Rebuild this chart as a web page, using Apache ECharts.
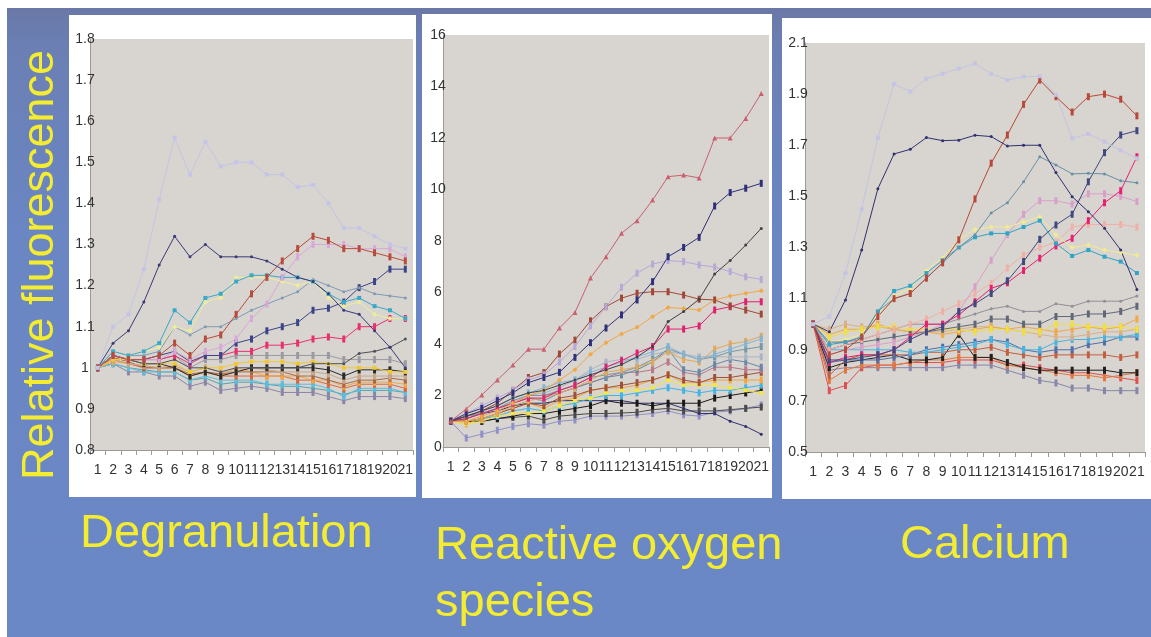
<!DOCTYPE html>
<html><head><meta charset="utf-8">
<script src="https://cdn.jsdelivr.net/npm/echarts@6/dist/echarts.min.js"></script>
<style>
html,body{margin:0;padding:0;background:#ffffff;overflow:hidden;}
#bg{position:absolute;left:7px;top:8px;width:1144px;height:629px;
background:linear-gradient(to bottom,#6a78a7 0%,#6b7fb4 6%,#6a86c3 35%,#6b88c6 100%);}
#chart{position:absolute;left:0;top:0;width:1151px;height:637px;}
</style></head><body><div id="bg"></div><div id="chart"></div>
<script>
// ---------- categories / ticks ----------
const timePoints = ['1','2','3','4','5','6','7','8','9','10','11','12','13','14','15','16','17','18','19','20','21'];

// ---------- Degranulation ----------
const deg_lavender = [1.00,1.10,1.13,1.24,1.41,1.56,1.47,1.55,1.49,1.50,1.50,1.47,1.47,1.44,1.445,1.40,1.34,1.34,1.32,1.30,1.29];
const deg_navy     = [1.00,1.06,1.09,1.16,1.25,1.32,1.27,1.30,1.27,1.27,1.27,1.26,1.24,1.22,1.21,1.18,1.14,1.13,1.09,1.05,1.00];
const deg_brown    = [1.00,1.03,1.02,1.02,1.03,1.06,1.03,1.07,1.08,1.13,1.18,1.22,1.26,1.29,1.32,1.31,1.29,1.29,1.28,1.27,1.26];
const deg_pink     = [1.00,1.03,1.02,1.02,1.02,1.04,1.02,1.04,1.05,1.07,1.12,1.155,1.22,1.27,1.30,1.30,1.30,1.29,1.29,1.29,1.27];
const deg_cyan     = [1.00,1.04,1.03,1.04,1.06,1.14,1.11,1.17,1.18,1.21,1.225,1.225,1.22,1.22,1.21,1.18,1.16,1.17,1.15,1.14,1.12];
const deg_ltyellow = [1.00,1.04,1.03,1.04,1.05,1.10,1.09,1.16,1.17,1.22,1.22,1.22,1.21,1.20,1.21,1.17,1.15,1.16,1.13,1.12,1.12];
const deg_grayblue = [1.00,1.04,1.03,1.03,1.04,1.10,1.08,1.10,1.10,1.12,1.14,1.155,1.17,1.185,1.215,1.20,1.185,1.195,1.18,1.175,1.17];
const deg_navy2    = [1.00,1.03,1.02,1.02,1.03,1.04,1.015,1.03,1.03,1.06,1.07,1.09,1.10,1.11,1.14,1.145,1.16,1.195,1.21,1.24,1.24];
const deg_magenta  = [1.00,1.03,1.02,1.02,1.02,1.03,1.01,1.03,1.03,1.04,1.04,1.055,1.055,1.06,1.07,1.075,1.07,1.10,1.10,1.12,1.12];
const deg_dkgray   = [1.00,1.03,1.02,1.01,1.01,1.02,1.00,1.00,0.99,1.00,1.00,1.00,1.00,1.00,1.01,1.01,1.01,1.035,1.04,1.05,1.07];
const deg_gold     = [1.00,1.02,1.02,1.01,1.01,1.01,0.99,1.00,1.00,1.01,1.015,1.015,1.015,1.01,1.015,1.01,1.00,1.00,1.00,0.99,0.99];
const deg_black    = [1.00,1.03,1.02,1.01,1.01,1.00,0.98,0.99,0.98,0.99,1.00,1.00,1.00,1.00,1.00,0.995,0.98,0.995,0.995,0.995,0.99];
const deg_orred    = [1.00,1.02,1.01,1.00,1.00,1.00,0.98,0.99,0.98,0.98,0.98,0.98,0.98,0.97,0.97,0.96,0.95,0.96,0.96,0.96,0.95];
const deg_ltblue   = [1.00,1.01,1.00,0.99,0.99,0.99,0.97,0.98,0.97,0.97,0.97,0.96,0.96,0.96,0.96,0.95,0.93,0.95,0.95,0.95,0.94];
const deg_purple   = [1.00,1.01,0.99,0.99,0.98,0.98,0.955,0.965,0.945,0.95,0.955,0.95,0.94,0.94,0.94,0.93,0.92,0.93,0.93,0.93,0.925];
const deg_brown2   = [1.00,1.025,1.015,1.00,1.00,1.00,0.985,0.99,0.985,0.99,0.99,0.99,0.99,0.98,0.98,0.97,0.96,0.97,0.97,0.975,0.97];
const deg_tan      = [1.00,1.02,1.01,1.005,1.00,1.005,0.99,1.00,0.99,0.99,1.00,0.995,0.99,0.99,0.99,0.985,0.97,0.98,0.98,0.98,0.98];
const deg_gray     = [1.00,1.03,1.02,1.02,1.02,1.03,1.00,1.02,1.02,1.03,1.03,1.03,1.03,1.03,1.03,1.03,1.02,1.02,1.02,1.02,1.01];
const deg_orange   = [1.00,1.015,1.01,1.005,1.00,1.00,0.98,0.99,0.98,1.00,0.99,0.98,0.98,0.98,0.97,0.97,0.955,0.965,0.965,0.965,0.96];
const deg_teal     = [1.00,1.01,1.00,0.995,0.99,0.99,0.97,0.975,0.96,0.965,0.965,0.96,0.955,0.955,0.95,0.945,0.935,0.945,0.945,0.945,0.94];

// ---------- Reactive oxygen species ----------
const ros_mauve    = [1.0,1.48,2.02,2.60,3.18,3.80,3.80,4.62,5.22,6.56,7.39,8.30,8.79,9.59,10.50,10.56,10.45,12.0,12.0,12.76,13.73];
const ros_navy     = [1.0,1.3,1.5,1.8,2.1,2.5,2.7,2.9,3.48,4.05,4.62,5.13,5.71,6.42,7.39,7.75,8.14,9.36,9.88,10.05,10.24];
const ros_dkgray   = [1.0,1.2,1.4,1.6,1.9,2.1,2.2,2.4,2.6,2.8,3.0,3.2,3.5,3.9,4.87,5.26,5.74,6.72,7.24,7.84,8.49];
const ros_lavender = [1.0,1.3,1.6,1.9,2.2,2.6,2.8,3.3,3.9,4.7,5.45,6.2,6.75,7.1,7.24,7.2,7.07,6.99,6.81,6.61,6.51];
const ros_brown    = [1.0,1.2,1.4,1.7,2.2,2.7,2.89,3.61,4.15,4.9,5.45,5.78,5.97,6.03,6.03,5.9,5.74,5.71,5.48,5.32,5.16];
const ros_orange   = [1.0,1.0,1.2,1.4,1.7,2.0,2.2,2.6,3.0,3.6,4.05,4.39,4.65,5.06,5.42,5.38,5.32,5.71,5.86,5.97,6.07];
const ros_magenta  = [1.0,1.1,1.3,1.5,1.7,1.9,1.9,2.2,2.4,2.7,3.1,3.35,3.65,3.9,4.58,4.58,4.7,5.32,5.45,5.64,5.64];
const ros_ltblue   = [1.0,1.2,1.4,1.6,1.9,2.1,2.3,2.5,2.6,2.9,3.1,3.3,3.5,3.7,3.9,3.6,3.4,3.6,3.8,4.0,4.2];
const ros_tan      = [1.0,1.0,1.1,1.3,1.6,1.8,1.9,2.1,2.3,2.6,2.9,3.0,3.1,3.3,3.7,3.4,3.3,3.8,4.0,4.1,4.3];
const ros_grayblue = [1.0,1.2,1.3,1.5,1.8,2.0,2.0,2.2,2.4,2.7,2.8,2.9,3.1,3.4,3.8,3.6,3.4,3.5,3.7,3.8,3.9];
const ros_silver   = [1.0,1.2,1.3,1.5,1.7,2.0,2.1,2.3,2.6,3.0,3.3,3.4,3.4,3.6,3.7,3.6,3.5,3.5,3.5,3.5,3.5];
const ros_steel    = [1.0,1.1,1.3,1.5,1.7,1.9,1.8,2.1,2.3,2.5,2.7,2.8,3.0,3.3,3.8,3.0,2.9,3.2,3.4,3.3,3.1];
const ros_rose     = [1.0,1.1,1.3,1.5,1.7,2.0,2.0,2.1,2.3,2.5,2.7,2.9,2.9,3.0,3.3,2.9,2.8,3.1,3.1,3.0,3.0];
const ros_brown2   = [1.0,1.0,1.1,1.3,1.5,1.7,1.6,1.9,2.0,2.2,2.3,2.4,2.5,2.6,2.8,2.6,2.5,2.7,2.7,2.8,2.9];
const ros_yellow   = [1.0,0.9,1.0,1.2,1.3,1.3,1.4,1.6,1.8,1.9,2.1,2.2,2.2,2.3,2.6,2.4,2.4,2.4,2.3,2.2,2.1];
const ros_gold     = [1.0,0.9,1.1,1.3,1.5,1.7,1.5,1.8,1.9,2.2,2.3,2.3,2.4,2.6,2.8,2.5,2.5,2.6,2.6,2.6,2.6];
const ros_cyan     = [1.0,1.0,1.1,1.2,1.4,1.5,1.4,1.6,1.7,1.9,2.0,2.0,2.1,2.2,2.3,2.2,2.1,2.2,2.2,2.3,2.4];
const ros_black    = [1.0,1.0,1.0,1.1,1.2,1.3,1.3,1.4,1.5,1.6,1.8,1.7,1.7,1.6,1.7,1.7,1.7,1.9,2.0,2.1,2.2];
const ros_navy2    = [1.0,1.2,1.3,1.4,1.6,1.7,1.7,1.8,1.8,1.8,1.8,1.8,1.7,1.7,1.7,1.5,1.3,1.3,1.0,0.8,0.5];
const ros_charcoal = [1.0,1.0,1.0,1.1,1.15,1.2,1.05,1.2,1.25,1.3,1.3,1.32,1.35,1.45,1.5,1.4,1.4,1.4,1.45,1.5,1.55];
const ros_violet   = [1.0,0.35,0.5,0.65,0.8,0.9,0.85,1.0,1.05,1.2,1.2,1.2,1.25,1.3,1.4,1.25,1.2,1.35,1.4,1.5,1.63];

// ---------- Calcium ----------
const cal_lavender = [1.0,1.03,1.2,1.45,1.73,1.94,1.91,1.96,1.98,2.0,2.02,1.98,1.955,1.968,1.97,1.897,1.727,1.744,1.714,1.68,1.649];
const cal_navy     = [1.0,0.97,1.095,1.29,1.53,1.666,1.684,1.73,1.718,1.72,1.739,1.734,1.697,1.70,1.70,1.593,1.499,1.44,1.375,1.29,1.136];
const cal_brown    = [1.0,0.88,0.90,0.95,1.03,1.10,1.12,1.18,1.24,1.33,1.49,1.63,1.74,1.86,1.955,1.89,1.83,1.89,1.90,1.88,1.815];
const cal_grayteal = [1.0,0.93,0.93,0.95,1.05,1.10,1.12,1.18,1.24,1.30,1.35,1.435,1.475,1.557,1.655,1.623,1.588,1.59,1.588,1.561,1.553];
const cal_cyan     = [1.0,0.92,0.93,0.95,1.05,1.13,1.15,1.20,1.25,1.30,1.34,1.355,1.355,1.38,1.405,1.316,1.267,1.29,1.264,1.245,1.20];
const cal_ltyellow = [1.0,0.93,0.94,0.96,1.04,1.11,1.14,1.21,1.26,1.33,1.37,1.38,1.38,1.40,1.42,1.35,1.30,1.31,1.29,1.28,1.27];
const cal_navy2    = [1.0,0.86,0.86,0.87,0.88,0.90,0.94,0.97,0.99,1.05,1.08,1.12,1.17,1.245,1.332,1.388,1.43,1.557,1.671,1.74,1.757];
const cal_magenta  = [1.0,0.85,0.87,0.88,0.88,0.90,0.95,1.00,1.00,1.036,1.088,1.14,1.162,1.21,1.258,1.306,1.336,1.405,1.475,1.522,1.655];
const cal_pink     = [1.0,0.88,0.90,0.91,0.92,0.93,0.95,0.97,1.00,1.05,1.147,1.25,1.35,1.43,1.483,1.483,1.47,1.51,1.51,1.50,1.48];
const cal_salmon   = [1.0,0.90,0.92,0.94,0.96,0.98,1.00,1.02,1.05,1.08,1.12,1.16,1.22,1.27,1.30,1.32,1.38,1.39,1.39,1.39,1.38];
const cal_gray     = [1.0,0.93,0.93,0.94,0.96,0.98,1.00,1.00,1.00,1.02,1.04,1.06,1.07,1.05,1.05,1.08,1.07,1.09,1.09,1.09,1.11];
const cal_dkgray   = [1.0,0.90,0.92,0.93,0.94,0.95,0.96,0.97,0.98,0.99,1.00,1.02,1.02,1.00,1.00,1.03,1.03,1.04,1.04,1.05,1.07];
const cal_yellow   = [1.0,0.95,0.97,0.98,0.99,0.99,0.98,0.98,0.98,0.98,0.97,0.98,0.98,0.97,0.97,1.00,1.00,0.99,0.99,0.99,0.98];
const cal_orange   = [1.0,0.96,0.98,0.98,1.00,0.98,0.97,0.97,0.96,0.97,0.98,0.99,0.98,0.99,0.98,0.97,0.98,0.99,0.98,0.99,1.02];
const cal_tan      = [1.0,0.98,1.00,0.99,0.99,0.98,0.97,0.97,0.97,0.98,0.99,0.99,0.98,0.97,0.96,0.95,0.95,0.96,0.97,0.97,0.98];
const cal_ltcyan   = [1.0,0.90,0.90,0.90,0.90,0.90,0.89,0.89,0.90,0.91,0.92,0.94,0.92,0.90,0.90,0.93,0.94,0.94,0.95,0.95,0.96];
const cal_steel    = [1.0,0.85,0.86,0.86,0.86,0.87,0.88,0.90,0.91,0.92,0.93,0.94,0.93,0.90,0.89,0.90,0.90,0.92,0.93,0.95,0.95];
const cal_rust     = [1.0,0.80,0.86,0.88,0.88,0.88,0.88,0.89,0.89,0.90,0.90,0.91,0.89,0.88,0.87,0.88,0.88,0.88,0.88,0.87,0.88];
const cal_black    = [1.0,0.83,0.85,0.86,0.87,0.88,0.86,0.86,0.87,0.96,0.87,0.87,0.85,0.83,0.82,0.82,0.82,0.82,0.82,0.81,0.81];
const cal_orred    = [1.0,0.78,0.82,0.84,0.84,0.84,0.85,0.86,0.86,0.87,0.87,0.87,0.84,0.83,0.82,0.81,0.80,0.80,0.79,0.80,0.81];
const cal_red      = [1.0,0.74,0.76,0.83,0.84,0.84,0.85,0.85,0.85,0.86,0.86,0.86,0.84,0.84,0.83,0.82,0.81,0.81,0.80,0.79,0.78];
const cal_purple   = [1.0,0.82,0.83,0.83,0.83,0.83,0.83,0.83,0.83,0.84,0.84,0.84,0.82,0.80,0.78,0.77,0.75,0.75,0.74,0.74,0.74];

// ---------- text ----------
const yTitle = 'Relative fluorescence';
const panelTitles = ['Degranulation', 'Reactive oxygen', 'species', 'Calcium'];

// ---------- styles (separate from data) ----------
const SYM = {
  bar: {symbol:'rect', size:[3,7]},
  dot: {symbol:'circle', size:3},
  tri: {symbol:'triangle', size:5},
  sq:  {symbol:'rect', size:4},
  dia: {symbol:'diamond', size:5}
};
function mk(g, data, color, sym, w){
  const s = SYM[sym];
  return {type:'line', xAxisIndex:g, yAxisIndex:g, data:data, symbol:s.symbol, symbolSize:s.size,
    showSymbol:true, lineStyle:{width:w||1, color:color}, itemStyle:{color:color},
    silent:true, animation:false, z:2};
}

const series = [
  // Degranulation
  mk(0, deg_teal, '#5aa0a8','bar'), mk(0, deg_purple, '#8a86a8','bar'), mk(0, deg_ltblue, '#5cbde0','bar'),
  mk(0, deg_orred, '#e0663a','bar'), mk(0, deg_orange, '#f0a848','bar'), mk(0, deg_brown2, '#a86848','bar'),
  mk(0, deg_tan, '#c8a888','bar'), mk(0, deg_gray, '#9a9aa0','bar'), mk(0, deg_black, '#2a2a2a','bar'),
  mk(0, deg_gold, '#f0c838','sq'), mk(0, deg_dkgray, '#505058','dot'),
  mk(0, deg_magenta, '#e8306e','bar'), mk(0, deg_navy2, '#3a4488','bar'), mk(0, deg_grayblue, '#7f9ab4','dot'),
  mk(0, deg_ltyellow, '#eeee9a','dia'), mk(0, deg_cyan, '#3aa8c8','sq'), mk(0, deg_pink, '#d8a8d8','bar'),
  mk(0, deg_brown, '#b84c3c','bar'), mk(0, deg_navy, '#3a3a78','dot'), mk(0, deg_lavender, '#c4c4e8','sq'),
  // ROS
  mk(1, ros_violet, '#9090c8','bar'), mk(1, ros_charcoal, '#4a4a4a','bar'), mk(1, ros_navy2, '#303070','dot'),
  mk(1, ros_black, '#1a1a1a','bar'), mk(1, ros_cyan, '#40b4e4','bar'), mk(1, ros_gold, '#f0a838','bar'),
  mk(1, ros_yellow, '#f4e64a','sq'), mk(1, ros_brown2, '#a0503a','bar'), mk(1, ros_rose, '#b87888','bar'),
  mk(1, ros_steel, '#6888a8','bar'), mk(1, ros_silver, '#a8b4c4','bar'), mk(1, ros_grayblue, '#7498a8','bar'),
  mk(1, ros_tan, '#e0a858','bar'), mk(1, ros_ltblue, '#84b4d4','bar'),
  mk(1, ros_magenta, '#e02070','bar'), mk(1, ros_orange, '#f0a848','dia'), mk(1, ros_brown, '#a04838','bar'),
  mk(1, ros_lavender, '#b8a8d8','bar'), mk(1, ros_dkgray, '#404048','dot'), mk(1, ros_navy, '#30307a','bar'),
  mk(1, ros_mauve, '#c86070','tri'),
  // Calcium
  mk(2, cal_purple, '#8686a8','bar'), mk(2, cal_red, '#e05050','bar'), mk(2, cal_orred, '#e07840','bar'),
  mk(2, cal_black, '#202020','bar'), mk(2, cal_rust, '#c06040','bar'), mk(2, cal_steel, '#5070a8','bar'),
  mk(2, cal_ltcyan, '#48b4e0','bar'), mk(2, cal_tan, '#d8b088','bar'), mk(2, cal_orange, '#f0a848','bar'),
  mk(2, cal_yellow, '#f0e040','bar'), mk(2, cal_dkgray, '#606878','bar'), mk(2, cal_gray, '#909098','dot'),
  mk(2, cal_salmon, '#f0b0a8','bar'), mk(2, cal_pink, '#d8a0c8','bar'), mk(2, cal_magenta, '#e82070','bar'),
  mk(2, cal_navy2, '#404880','bar'), mk(2, cal_ltyellow, '#f2ec90','dia'), mk(2, cal_cyan, '#30a4c4','sq'),
  mk(2, cal_grayteal, '#6890a4','dot'), mk(2, cal_brown, '#b84838','bar'), mk(2, cal_navy, '#303070','dot'),
  mk(2, cal_lavender, '#c4c4e4','sq')
];

const gridsDef = [
  {left:90, top:39, width:323, height:411},
  {left:443, top:35, width:326, height:412},
  {left:805, top:43, width:340, height:409}
];
const yDefs = [
  {min:0.8, max:1.8, interval:0.1, margin:5},
  {min:0, max:16, interval:2, margin:5},
  {min:0.5, max:2.1, interval:0.2, margin:7}
];

const grids = gridsDef.map(g => Object.assign({show:true, backgroundColor:'#d8d4cf', borderWidth:0}, g));
const xAxes = gridsDef.map((g,i) => ({
  type:'category', gridIndex:i, data:timePoints, boundaryGap:true,
  axisLine:{show:true, lineStyle:{color:'#9a9a9a', width:1}},
  axisTick:{show:true, alignWithLabel:false, length:5, lineStyle:{color:'#9a9a9a'}},
  axisLabel:{interval:0, margin:13, color:'#333', fontSize:14, fontFamily:'Liberation Sans, Arial, sans-serif'},
  splitLine:{show:false}
}));
const yAxes = yDefs.map((d,i) => ({
  type:'value', gridIndex:i, min:d.min, max:d.max, interval:d.interval,
  axisLine:{show:true, lineStyle:{color:'#9a9a9a', width:1}},
  axisTick:{show:false},
  axisLabel:{margin:d.margin, align:'center', color:'#333', fontSize:14, fontFamily:'Liberation Sans, Arial, sans-serif',
    formatter: v => String(Math.round(v*10)/10)},
  splitLine:{show:false}
}));

const yellow = '#f4ec30';
const tfont = 'Liberation Sans, Arial, sans-serif';
const graphic = [
  {type:'rect', shape:{x:69,y:15,width:347,height:482}, style:{fill:'#ffffff'}, z:-10},
  {type:'rect', shape:{x:422,y:14,width:350,height:484}, style:{fill:'#ffffff'}, z:-10},
  {type:'rect', shape:{x:782,y:18,width:369,height:481}, style:{fill:'#ffffff'}, z:-10},
  {type:'text', x:41, y:265, rotation:Math.PI/2, style:{text:yTitle, fill:yellow, font:'45px '+tfont, align:'center', verticalAlign:'middle'}, z:10},
  {type:'text', x:80, y:534, style:{text:panelTitles[0], fill:yellow, font:'47px '+tfont, align:'left', verticalAlign:'middle'}, z:10},
  {type:'text', x:435, y:546, style:{text:panelTitles[1], fill:yellow, font:'47px '+tfont, align:'left', verticalAlign:'middle'}, z:10},
  {type:'text', x:435, y:603, style:{text:panelTitles[2], fill:yellow, font:'47px '+tfont, align:'left', verticalAlign:'middle'}, z:10},
  {type:'text', x:900, y:545, style:{text:panelTitles[3], fill:yellow, font:'47px '+tfont, align:'left', verticalAlign:'middle'}, z:10}
];

const chart = echarts.init(document.getElementById('chart'), null, {renderer:'canvas'});
chart.setOption({
  backgroundColor:'transparent',
  animation:false,
  grid:grids, xAxis:xAxes, yAxis:yAxes, series:series, graphic:graphic
});
</script></body></html>
